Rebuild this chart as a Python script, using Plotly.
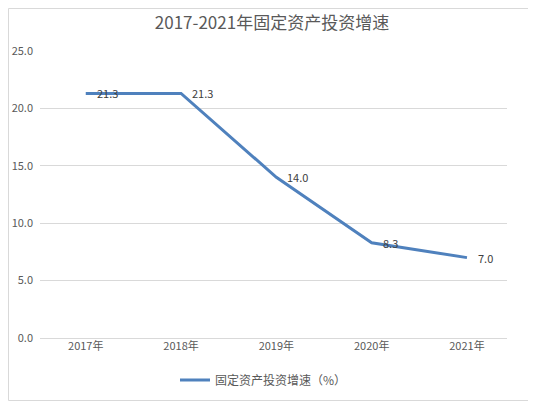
import plotly.graph_objects as go

# 2017-2021 固定资产投资增速
years = ["2017年", "2018年", "2019年", "2020年", "2021年"]
growth = [21.3, 21.3, 14.0, 8.3, 7.0]
series_name = "固定资产投资增速（%）"

font_cn = "Noto Sans CJK SC, Microsoft YaHei, sans-serif"
grey_txt = "#595959"

# the page body adds an 8px margin, so the figure is 8px smaller than the window
W, H = 528, 394
ml, mr, mt, mb = 32, 29, 43, 64
pw, ph = W - ml - mr, H - mt - mb

fig = go.Figure()
fig.add_trace(go.Scatter(
    x=years, y=growth,
    mode="lines",
    name=series_name,
    line=dict(color="#4F81BD", width=3),
))

# data labels, a little to the right of each point
for yr, v in zip(years, growth):
    fig.add_annotation(x=yr, y=v, text=f"{v:.1f}", showarrow=False,
                       xanchor="left", yanchor="middle", xshift=9,
                       font=dict(size=11, color="#404040", family=font_cn))

fig.update_layout(
    width=W, height=H,
    margin=dict(l=ml, r=mr, t=mt, b=mb, autoexpand=False),
    paper_bgcolor="white", plot_bgcolor="white",
    title=dict(text="2017-2021年固定资产投资增速", x=0.5, xanchor="center",
               y=1 - 15 / H, yanchor="middle",
               font=dict(size=17, color=grey_txt, family=font_cn)),
    font=dict(family=font_cn, color=grey_txt, size=11),
    showlegend=True,
    legend=dict(orientation="h", x=0.5 - 10 / pw, xanchor="center", y=-42 / ph,
                yanchor="middle", font=dict(size=12, color=grey_txt)),
    xaxis=dict(range=[-0.48, 4.42], showgrid=False, ticks="", showline=False,
               tickfont=dict(size=11, color=grey_txt)),
    yaxis=dict(range=[0, 25], dtick=5, tickformat=".1f", gridcolor="#D9D9D9",
               zeroline=True, zerolinecolor="#D9D9D9", zerolinewidth=1,
               showline=False, ticks="", ticklabelstandoff=6,
               tickfont=dict(size=11, color=grey_txt)),
    shapes=[dict(type="rect", xref="paper", yref="paper",
                 x0=-ml / pw + 0.5 / pw, x1=1 + (mr - 1.5) / pw,
                 y0=-(mb - 1.5) / ph, y1=1 + (mt - 0.5) / ph,
                 line=dict(color="#D9D9D9", width=1))],
)

fig.write_html("out.html")
